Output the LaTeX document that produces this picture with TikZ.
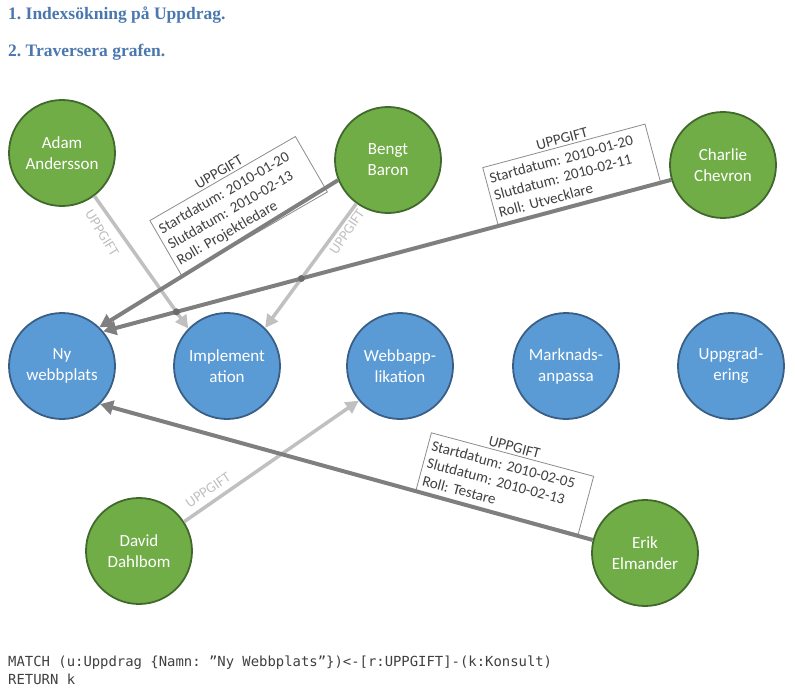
\documentclass[tikz,border=0pt]{standalone}
\usepackage{fontspec}
\setmainfont{Carlito}
\newfontfamily\headfont{Liberation Serif}
\newfontfamily\codefont{DejaVu Sans Mono}
\usetikzlibrary{arrows.meta,calc,intersections}
\definecolor{grfill}{HTML}{70AD47}
\definecolor{grline}{HTML}{41692C}
\definecolor{blfill}{HTML}{5B9BD5}
\definecolor{blline}{HTML}{3A5F86}
\definecolor{darkedge}{HTML}{7F7F7F}
\definecolor{lightedge}{HTML}{C0C0C0}
\definecolor{headblue}{HTML}{4A78AE}
\definecolor{boxgray}{HTML}{8C8C8C}
\definecolor{textgray}{HTML}{404040}
\definecolor{codegray}{HTML}{404040}
\frenchspacing
\begin{document}
\begin{tikzpicture}[x=1pt,y=-1pt,
  person/.style={circle, draw=grline, fill=grfill, line width=1.8pt, minimum size=106pt, inner sep=0pt, text=white, align=center, font=\fontsize{17}{21}\selectfont},
  task/.style={person, draw=blline, fill=blfill},
  darkarrow/.style={draw=darkedge, line width=4pt, -{Triangle[length=13pt,width=14pt]}},
  lightarrow/.style={draw=lightedge, line width=3.5pt, -{Triangle[length=13pt,width=13pt]}},
  infobox/.style={draw=boxgray, line width=0.8pt, fill=white, font=\fontsize{15}{18}\selectfont, text=textgray, align=left, inner xsep=4pt, inner ysep=3pt, text width=160pt, minimum height=60pt},
  boxtitle/.style={font=\fontsize{15}{18}\selectfont, text=textgray, inner sep=2pt},
  elabel/.style={font=\fontsize{14.5}{16}\selectfont, text=lightedge, inner sep=1pt},
  heading/.style={font=\headfont\bfseries\fontsize{17.5}{20}\selectfont, text=headblue, anchor=base west, inner sep=0pt},
  code/.style={font=\codefont\fontsize{13.9}{17}\selectfont, text=codegray, anchor=base west, inner sep=0pt},
  hop/.style={fill=darkedge!85!black, draw=none}
]
\useasboundingbox (0,0) rectangle (795,690);

\node[heading] (h1) at (8,20) {1. Indexsökning på Uppdrag.};
\node[heading] (h2) at (8,57) {2. Traversera grafen.};

% persons
\node[person] (adam) at (62,153) {Adam\\Andersson};
\node[person] (bengt) at (388,160) {Bengt\\Baron};
\node[person] (charlie) at (723,165) {Charlie\\Chevron};
\node[person] (david) at (139,551) {David\\Dahlbom};
\node[person] (erik) at (645,553) {Erik\\Elmander};

% tasks
\node[task] (ny) at (62,366) {Ny\\webbplats};
\node[task] (impl) at (227,366) {Implement\\ation};
\node[task] (webb) at (400,366) {Webbapp-\\likation};
\node[task] (mark) at (566,366) {Marknads-\\anpassa};
\node[task] (uppg) at (731,366) {Uppgrad-\\ering};

% light edges
\draw[lightarrow, name path=ai] (adam.-53) -- (impl.136);
\draw[lightarrow, name path=bi] (bengt.-126) -- (impl.45);
\draw[lightarrow] (david.33) -- (webb.220);

\node[elabel, rotate=-58] (l1) at (102,233) {UPPGIFT};
\node[elabel, rotate=56] (l2) at (347,232) {UPPGIFT};
\node[elabel, rotate=34] (l3) at (208,490) {UPPGIFT};

% info boxes
\coordinate (bb) at ($(bengt.202)!0.655!(ny.46)$);
\coordinate (cb) at ($(charlie.196)!0.305!(ny.40)$);
\coordinate (eb) at ($(erik.166)!0.36!(ny.-45)$);

\node[infobox, rotate=30, anchor=south west, minimum height=64pt] (bbox) at (bb)
  {Startdatum: 2010-01-20\\Slutdatum: 2010-02-13\\Roll: Projektledare};
\node[boxtitle, rotate=30, anchor=south] (btitle) at (bbox.north) {UPPGIFT};

\node[infobox, rotate=15, anchor=south west] (cbox) at (cb)
  {Startdatum: 2010-01-20\\Slutdatum: 2010-02-11\\Roll: Utvecklare};
\node[boxtitle, rotate=15, anchor=south] (ctitle) at (cbox.north) {UPPGIFT};

\node[infobox, rotate=-15, anchor=south west] (ebox) at (eb)
  {Startdatum: 2010-02-05\\Slutdatum: 2010-02-13\\Roll: Testare};
\node[boxtitle, rotate=-15, anchor=south] (etitle) at (ebox.north) {UPPGIFT};

% dark edges
\draw[darkarrow] (bengt.202) -- (ny.46);
\draw[darkarrow, name path=cn] (charlie.196) -- (ny.40);
\draw[darkarrow] (erik.166) -- (ny.-45);

% line hops
\path[name intersections={of=ai and cn, by={x1}}];
\path[name intersections={of=bi and cn, by={x2}}];
\fill[hop] (x1) circle (3.5pt);
\fill[hop] (x2) circle (3.5pt);

% query
\node[code] (q1) at (8,666) {MATCH (u:Uppdrag \{Namn: ”Ny Webbplats”\})<-[r:UPPGIFT]-(k:Konsult)};
\node[code] (q2) at (8,684) {RETURN k};
\end{tikzpicture}
\end{document}
